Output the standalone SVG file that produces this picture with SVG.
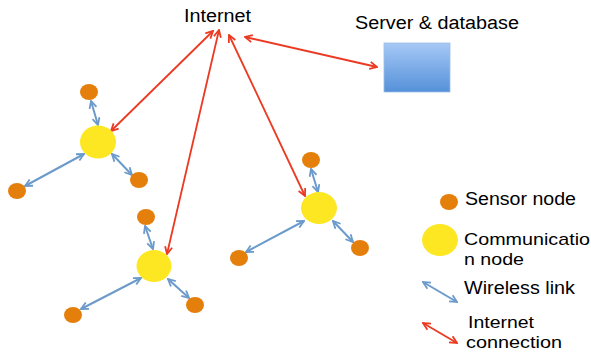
<svg xmlns="http://www.w3.org/2000/svg" width="591" height="354" viewBox="0 0 591 354">
<style>
text{font-family:"Liberation Sans",Arial,sans-serif;font-size:18px;fill:#000}
.sm{font-size:17px}
.sensor{fill:#e47f0c}
.comm{fill:#fde723}
.wl{stroke:#6b9acb;stroke-width:2;fill:none;marker-start:url(#bh);marker-end:url(#bh)}
.ic{stroke:#ec3a22;stroke-width:1.8;fill:none;marker-start:url(#rh);marker-end:url(#rh)}
</style>
<defs>
<marker id="bh" viewBox="0 0 10 10" refX="9" refY="5" markerWidth="9" markerHeight="9" markerUnits="userSpaceOnUse" orient="auto-start-reverse">
<path d="M1,1 L9,5 L1,9" fill="none" stroke="#6b9acb" stroke-width="2"/>
</marker>
<marker id="rh" viewBox="0 0 10 10" refX="9" refY="5" markerWidth="9" markerHeight="9" markerUnits="userSpaceOnUse" orient="auto-start-reverse">
<path d="M1,1 L9,5 L1,9" fill="none" stroke="#ec3a22" stroke-width="2"/>
</marker>
<linearGradient id="srv" x1="0" y1="0" x2="0" y2="1">
<stop offset="0" stop-color="#a6c8f6"/>
<stop offset="1" stop-color="#5591d9"/>
</linearGradient>
</defs>

<g id="internet"><text x="184" y="22" textLength="67" lengthAdjust="spacingAndGlyphs">Internet</text></g>
<g id="server">
<text x="355" y="29" textLength="164" lengthAdjust="spacingAndGlyphs">Server &amp; database</text>
<rect x="384" y="43" width="66" height="49" fill="url(#srv)" stroke="#9bbde6" stroke-width="0.8"/>
</g>

<g id="connectors">
<line class="ic" x1="213" y1="31" x2="111" y2="131"/>
<line class="ic" x1="219" y1="30" x2="167" y2="254"/>
<line class="ic" x1="229" y1="35" x2="305" y2="196"/>
<line class="ic" x1="245" y1="37" x2="377" y2="67"/>

<line class="wl" x1="91" y1="101" x2="98" y2="125"/>
<line class="wl" x1="25" y1="186" x2="84" y2="154"/>
<line class="wl" x1="112" y1="154" x2="132" y2="175"/>

<line class="wl" x1="145" y1="226" x2="153" y2="249"/>
<line class="wl" x1="81" y1="309" x2="141" y2="278"/>
<line class="wl" x1="168" y1="279" x2="189" y2="298"/>

<line class="wl" x1="311" y1="169" x2="318" y2="192"/>
<line class="wl" x1="246" y1="252" x2="304" y2="221"/>
<line class="wl" x1="333" y1="221" x2="353" y2="242"/>
</g>

<g id="cluster1">
<ellipse class="comm" cx="98" cy="142" rx="18" ry="16.5"/>
<ellipse class="sensor" cx="89" cy="92" rx="9" ry="8"/>
<ellipse class="sensor" cx="17" cy="191" rx="9" ry="8"/>
<ellipse class="sensor" cx="139" cy="180" rx="9" ry="8"/>
</g>
<g id="cluster2">
<ellipse class="comm" cx="154" cy="266" rx="17.5" ry="16"/>
<ellipse class="sensor" cx="146" cy="217" rx="9" ry="8"/>
<ellipse class="sensor" cx="73" cy="315" rx="9" ry="8"/>
<ellipse class="sensor" cx="195" cy="305" rx="9" ry="8"/>
</g>
<g id="cluster3">
<ellipse class="comm" cx="319" cy="208" rx="18" ry="16"/>
<ellipse class="sensor" cx="311" cy="160" rx="9" ry="8"/>
<ellipse class="sensor" cx="239" cy="258" rx="9" ry="8"/>
<ellipse class="sensor" cx="360" cy="248" rx="9" ry="8"/>
</g>

<g id="legend">
<ellipse class="sensor" cx="449" cy="202" rx="9" ry="8"/>
<text x="465" y="205" textLength="111" lengthAdjust="spacingAndGlyphs">Sensor node</text>
<ellipse class="comm" cx="440" cy="240" rx="18" ry="16"/>
<text class="sm" x="464" y="245" textLength="126" lengthAdjust="spacingAndGlyphs">Communicatio</text>
<text class="sm" x="464" y="265" textLength="60" lengthAdjust="spacingAndGlyphs">n node</text>
<line class="wl" x1="423" y1="282" x2="457" y2="302"/>
<text x="464" y="294" textLength="111" lengthAdjust="spacingAndGlyphs">Wireless link</text>
<line class="ic" x1="423" y1="323" x2="457" y2="343"/>
<text class="sm" x="468" y="328" textLength="66" lengthAdjust="spacingAndGlyphs">Internet</text>
<text class="sm" x="466" y="348" textLength="96" lengthAdjust="spacingAndGlyphs">connection</text>
</g>
</svg>
